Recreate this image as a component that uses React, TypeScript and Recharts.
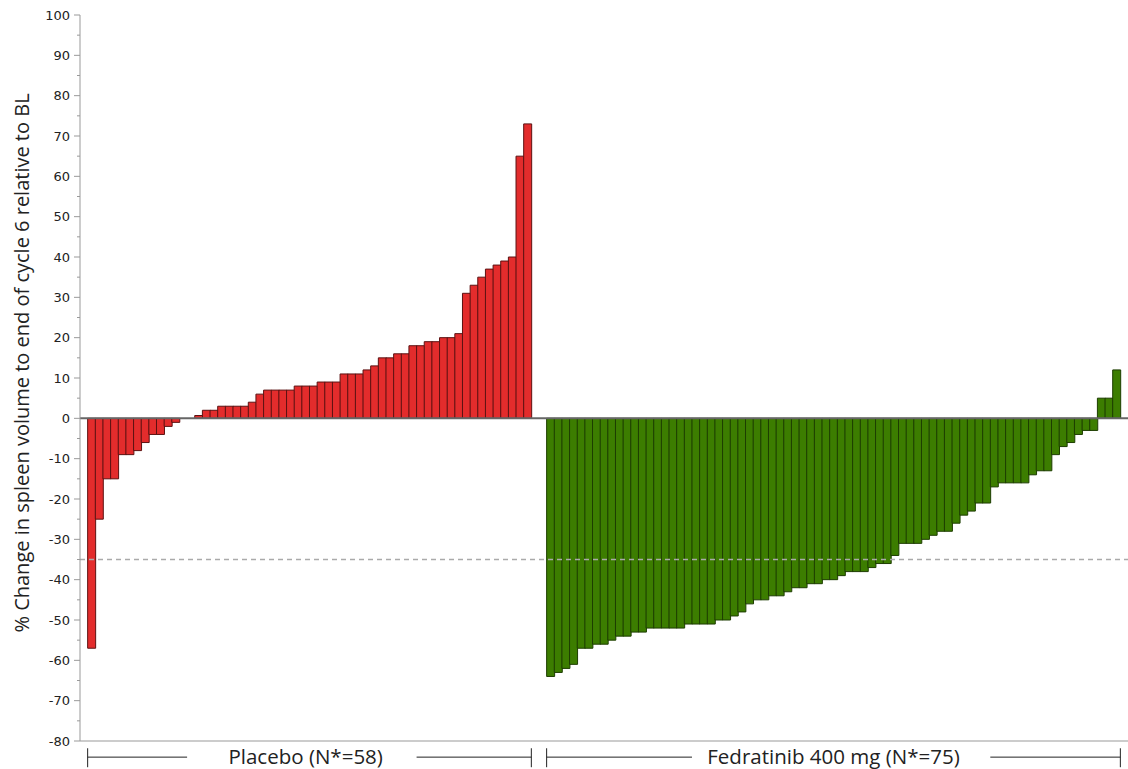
import { BarChart, Bar, Cell, XAxis, YAxis, ReferenceLine, Label } from "recharts"

// % change in spleen volume, sorted per arm
const placebo = [
    -57, -25, -15, -15, -9, -9, -8, -6, -4, -4, -2, -1, 0, 0, 0.7, 2, 2, 3, 3, 3,
    3, 4, 6, 7, 7, 7, 7, 8, 8, 8, 9, 9, 9, 11, 11, 11, 12, 13, 15, 15,
    16, 16, 18, 18, 19, 19, 20, 20, 21, 31, 33, 35, 37, 38, 39, 40, 65, 73,
]

const fedratinib = [
    -64, -63, -62, -61, -57, -57, -56, -56, -55, -54, -54, -53, -53, -52, -52, -52, -52, -52, -51, -51,
    -51, -51, -50, -50, -49, -48, -46, -45, -45, -44, -44, -43, -42, -42, -41, -41, -40, -40, -39, -38,
    -38, -38, -37, -36, -36, -34, -31, -31, -31, -30, -29, -28, -28, -26, -24, -23, -21, -21, -17, -16,
    -16, -16, -16, -14, -13, -13, -9, -7, -6, -4, -3, -3, 5, 5, 12,
]

const groupLabels = ["Placebo (N*=58)", "Fedratinib 400 mg (N*=75)"]
const majorTicks = [-80, -70, -60, -50, -40, -30, -20, -10, 0, 10, 20, 30, 40, 50, 60, 70, 80, 90, 100]
const minorTicks = [-75, -65, -55, -45, -35, -25, -15, -5, 5, 15, 25, 35, 45, 55, 65, 75, 85, 95]
const threshold = -35

const RED = "#e32c2c"
const RED_EDGE = "#5c1212"
const GREEN = "#3c7d00"
const GREEN_EDGE = "#1d3d00"

interface Row {
    id: string
    value: number | null
    group: string
}

const rows: Row[] = [
    { id: "padStart", value: null, group: "" },
    ...placebo.map((v, i) => ({ id: `P${i + 1}`, value: v, group: "placebo" })),
    { id: "gapA", value: null, group: "" },
    { id: "gapB", value: null, group: "" },
    ...fedratinib.map((v, i) => ({ id: `G${i + 1}`, value: v, group: "fed" })),
    { id: "padEnd", value: null, group: "" },
]

const labelTicks = ["P29", "G38"]

function YTick(props: any) {
    const { x, y, payload } = props
    const axisX = x + 10
    const major = majorTicks.includes(payload.value)
    return (
        <g>
            <line x1={axisX - (major ? 6 : 3)} x2={axisX} y1={y} y2={y} stroke="#999" strokeWidth={1} />
            {major && (
                <text x={x} y={y} dy={4.5} textAnchor="end" fontSize={13} fill="#222" fontFamily="DejaVu Sans">
                    {payload.value}
                </text>
            )}
        </g>
    )
}

function GroupTick(props: any) {
    const { x, y, payload } = props
    const text = payload.value === "P29" ? groupLabels[0] : groupLabels[1]
    return (
        <text x={x} y={y} dy={23} textAnchor="middle" fontSize={20.5} fill="#222" fontFamily="Open Sans">
            {text}
        </text>
    )
}

const BRACKET_Y = -84
const CAP_TOP = -81.8
const CAP_BOTTOM = -86.5

// horizontal pieces of the brackets below the axis (left piece, right piece per arm)
const bracketPieces: [string, string][] = [
    ["P1", "P14"],
    ["P44", "gapA"],
    ["G1", "G20"],
    ["G59", "padEnd"],
]
const bracketCaps = ["P1", "gapA", "G1", "padEnd"]

export default function App() {
    return (
        <div style={{ position: "absolute", left: 0, top: 0, background: "#fff" }}>
            <BarChart
                width={1128}
                height={769}
                data={rows}
                margin={{ top: 15, right: 0, left: 0, bottom: 0 }}
                barCategoryGap={0}
                barGap={0}
            >
                <XAxis
                    dataKey="id"
                    height={28}
                    ticks={labelTicks}
                    interval={0}
                    tick={<GroupTick />}
                    tickLine={false}
                    tickSize={0}
                    tickMargin={0}
                    axisLine={{ stroke: "#999", strokeWidth: 1 }}
                />
                <YAxis
                    width={80}
                    domain={[-80, 100]}
                    ticks={[...majorTicks, ...minorTicks]}
                    interval={0}
                    tick={<YTick />}
                    tickLine={false}
                    tickSize={6}
                    tickMargin={4}
                    axisLine={{ stroke: "#999", strokeWidth: 1 }}
                    allowDataOverflow
                >
                    <Label
                        value="% Change in spleen volume to end of cycle 6 relative to BL"
                        angle={-90}
                        position="insideLeft"
                        offset={22}
                        dy={-15}
                        style={{ textAnchor: "middle", fontSize: 20, fill: "#222", fontFamily: "Open Sans" }}
                    />
                </YAxis>
                <Bar dataKey="value" isAnimationActive={false} strokeWidth={1}>
                    {rows.map((r) => (
                        <Cell
                            key={r.id}
                            fill={r.group === "placebo" ? RED : GREEN}
                            stroke={r.group === "placebo" ? RED_EDGE : GREEN_EDGE}
                        />
                    ))}
                </Bar>
                <ReferenceLine y={threshold} stroke="#aaa" strokeWidth={1.5} strokeDasharray="5 4" />
                <ReferenceLine y={0} stroke="#666" strokeWidth={2} />
                {bracketPieces.map(([a, b]) => (
                    <ReferenceLine
                        key={a + b}
                        segment={[
                            { x: a, y: BRACKET_Y },
                            { x: b, y: BRACKET_Y },
                        ]}
                        position="start"
                        ifOverflow="visible"
                        stroke="#222"
                        strokeWidth={1}
                    />
                ))}
                {bracketCaps.map((c) => (
                    <ReferenceLine
                        key={c}
                        segment={[
                            { x: c, y: CAP_TOP },
                            { x: c, y: CAP_BOTTOM },
                        ]}
                        position="start"
                        ifOverflow="visible"
                        stroke="#222"
                        strokeWidth={1}
                    />
                ))}
            </BarChart>
        </div>
    )
}
